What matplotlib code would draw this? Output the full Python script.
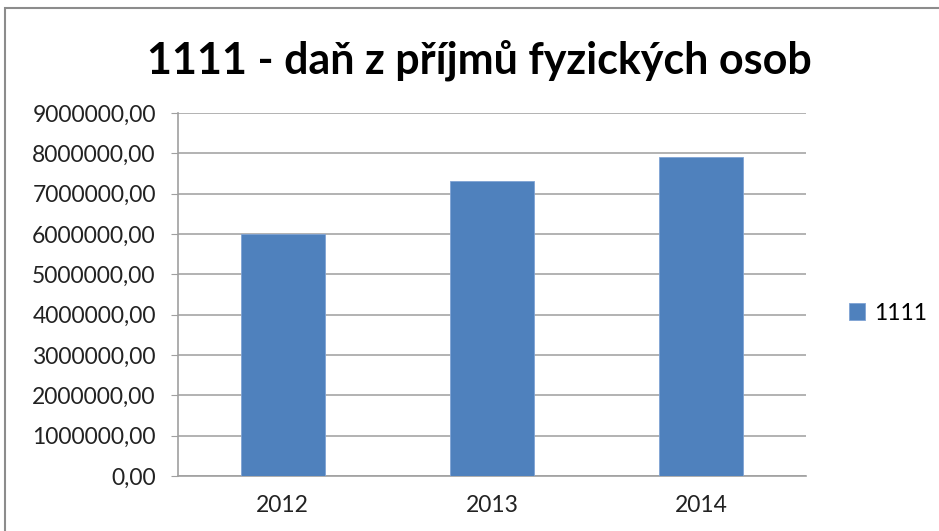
import matplotlib.pyplot as plt
from matplotlib.patches import Rectangle

years = ["2012", "2013", "2014"]
values = [5990000, 7310000, 7900000]
series_name = "1111"
title = "1111 - daň z příjmů fyzických osob"

plt.rcParams['font.family'] = ['Lato', 'DejaVu Sans']

fig = plt.figure(figsize=(9.39, 5.31), dpi=100)
ax = fig.add_axes([178 / 939, 55 / 531, 628 / 939, 363 / 531])

x = list(range(len(years)))
bars = ax.bar(x, values, width=0.4, color="#4f81bd", edgecolor="#7fa3d4", linewidth=0.6,
              label=series_name, zorder=3)

ax.set_xlim(-0.5, 2.5)
ax.set_ylim(0, 9000000)
ax.set_yticks(range(0, 9000001, 1000000))
ax.set_yticklabels(["%d,00" % v for v in range(0, 9000001, 1000000)])
ax.set_xticks(x)
ax.set_xticklabels(years)
ax.tick_params(axis="both", labelsize=16.5, colors="#222222", length=0, pad=8)
ax.tick_params(axis="y", length=5, color="#a0a0a0", pad=11)
ax.tick_params(axis="x", pad=14)
ax.grid(axis="y", color="#a6a6a6", linewidth=1.2, zorder=0)
for side in ["top", "right"]:
    ax.spines[side].set_visible(False)
for side in ["left", "bottom"]:
    ax.spines[side].set_color("#a0a0a0")
    ax.spines[side].set_linewidth(1.2)

fig.text(479 / 939, 1 - 60 / 531, title, ha="center", va="center",
         fontsize=31, fontweight="bold", color="black")

fig.legend(handles=[bars], labels=[series_name], loc="center left",
           bbox_to_anchor=(828 / 939, 1 - 313 / 531), frameon=False,
           fontsize=16.5, handlelength=0.7, handleheight=0.7, handletextpad=0.4)

# outer chart frame
fig.patches.append(Rectangle((5 / 939, -0.05), 1.0, 1 - 8 / 531 + 0.05,
                             transform=fig.transFigure, fill=False,
                             edgecolor="#8c8c8c", linewidth=1.5))

plt.savefig("out.png", dpi=100)
